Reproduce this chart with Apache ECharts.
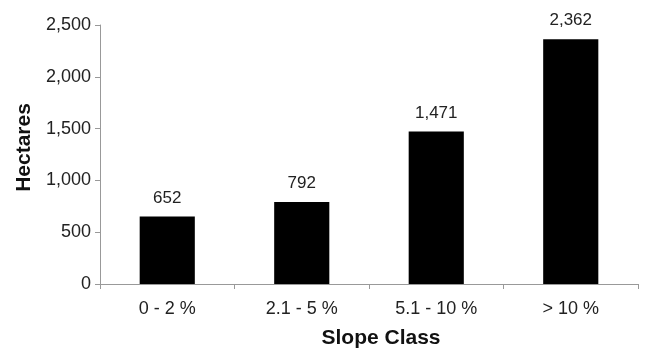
<!DOCTYPE html>
<html><head><meta charset="utf-8">
<script src="https://cdn.jsdelivr.net/npm/echarts@6/dist/echarts.min.js"></script>
<style>html,body{margin:0;padding:0;background:#fff}#c{width:645px;height:349px}</style>
</head><body><div id="c"></div>
<script>
const categories = ['0 - 2 %', '2.1 - 5 %', '5.1 - 10 %', '> 10 %'];
const hectares = [652, 792, 1471, 2362];
const yTicks = [0, 500, 1000, 1500, 2000, 2500];

const fmt = v => v.toLocaleString('en-US');
const chart = echarts.init(document.getElementById('c'));
chart.setOption({
  animation: false,
  textStyle: { fontFamily: 'Liberation Sans, Arial, sans-serif' },
  grid: { left: 100, right: 7, top: 25, bottom: 65, containLabel: false, outerBoundsMode: 'none' },
  xAxis: {
    type: 'category', data: categories,
    name: 'Slope Class', nameLocation: 'middle', nameGap: 44,
    nameTextStyle: { fontSize: 21, fontWeight: 'bold', color: '#111', padding: [0, 0, 0, 24] },
    axisLine: { lineStyle: { color: '#999', width: 1 } },
    axisTick: { show: true, alignWithLabel: false, length: 5, lineStyle: { color: '#999' } },
    axisLabel: { fontSize: 18, color: '#222', margin: 16 }
  },
  yAxis: {
    type: 'value', min: yTicks[0], max: yTicks[yTicks.length - 1], interval: 500,
    name: 'Hectares', nameLocation: 'middle', nameGap: 65,
    nameTextStyle: { fontSize: 21, fontWeight: 'bold', color: '#111', padding: [0, 0, 0, 14] },
    axisLine: { show: true, lineStyle: { color: '#999', width: 1 } },
    axisTick: { show: true, length: 5, lineStyle: { color: '#999' } },
    splitLine: { show: false },
    axisLabel: { fontSize: 18, color: '#222', margin: 9, formatter: v => fmt(v) }
  },
  series: [{
    type: 'bar', data: hectares, barWidth: '41%',
    itemStyle: { color: '#000' },
    label: { show: true, position: 'top', distance: 10, fontSize: 17, color: '#222', formatter: p => fmt(p.value) }
  }]
});
</script></body></html>
